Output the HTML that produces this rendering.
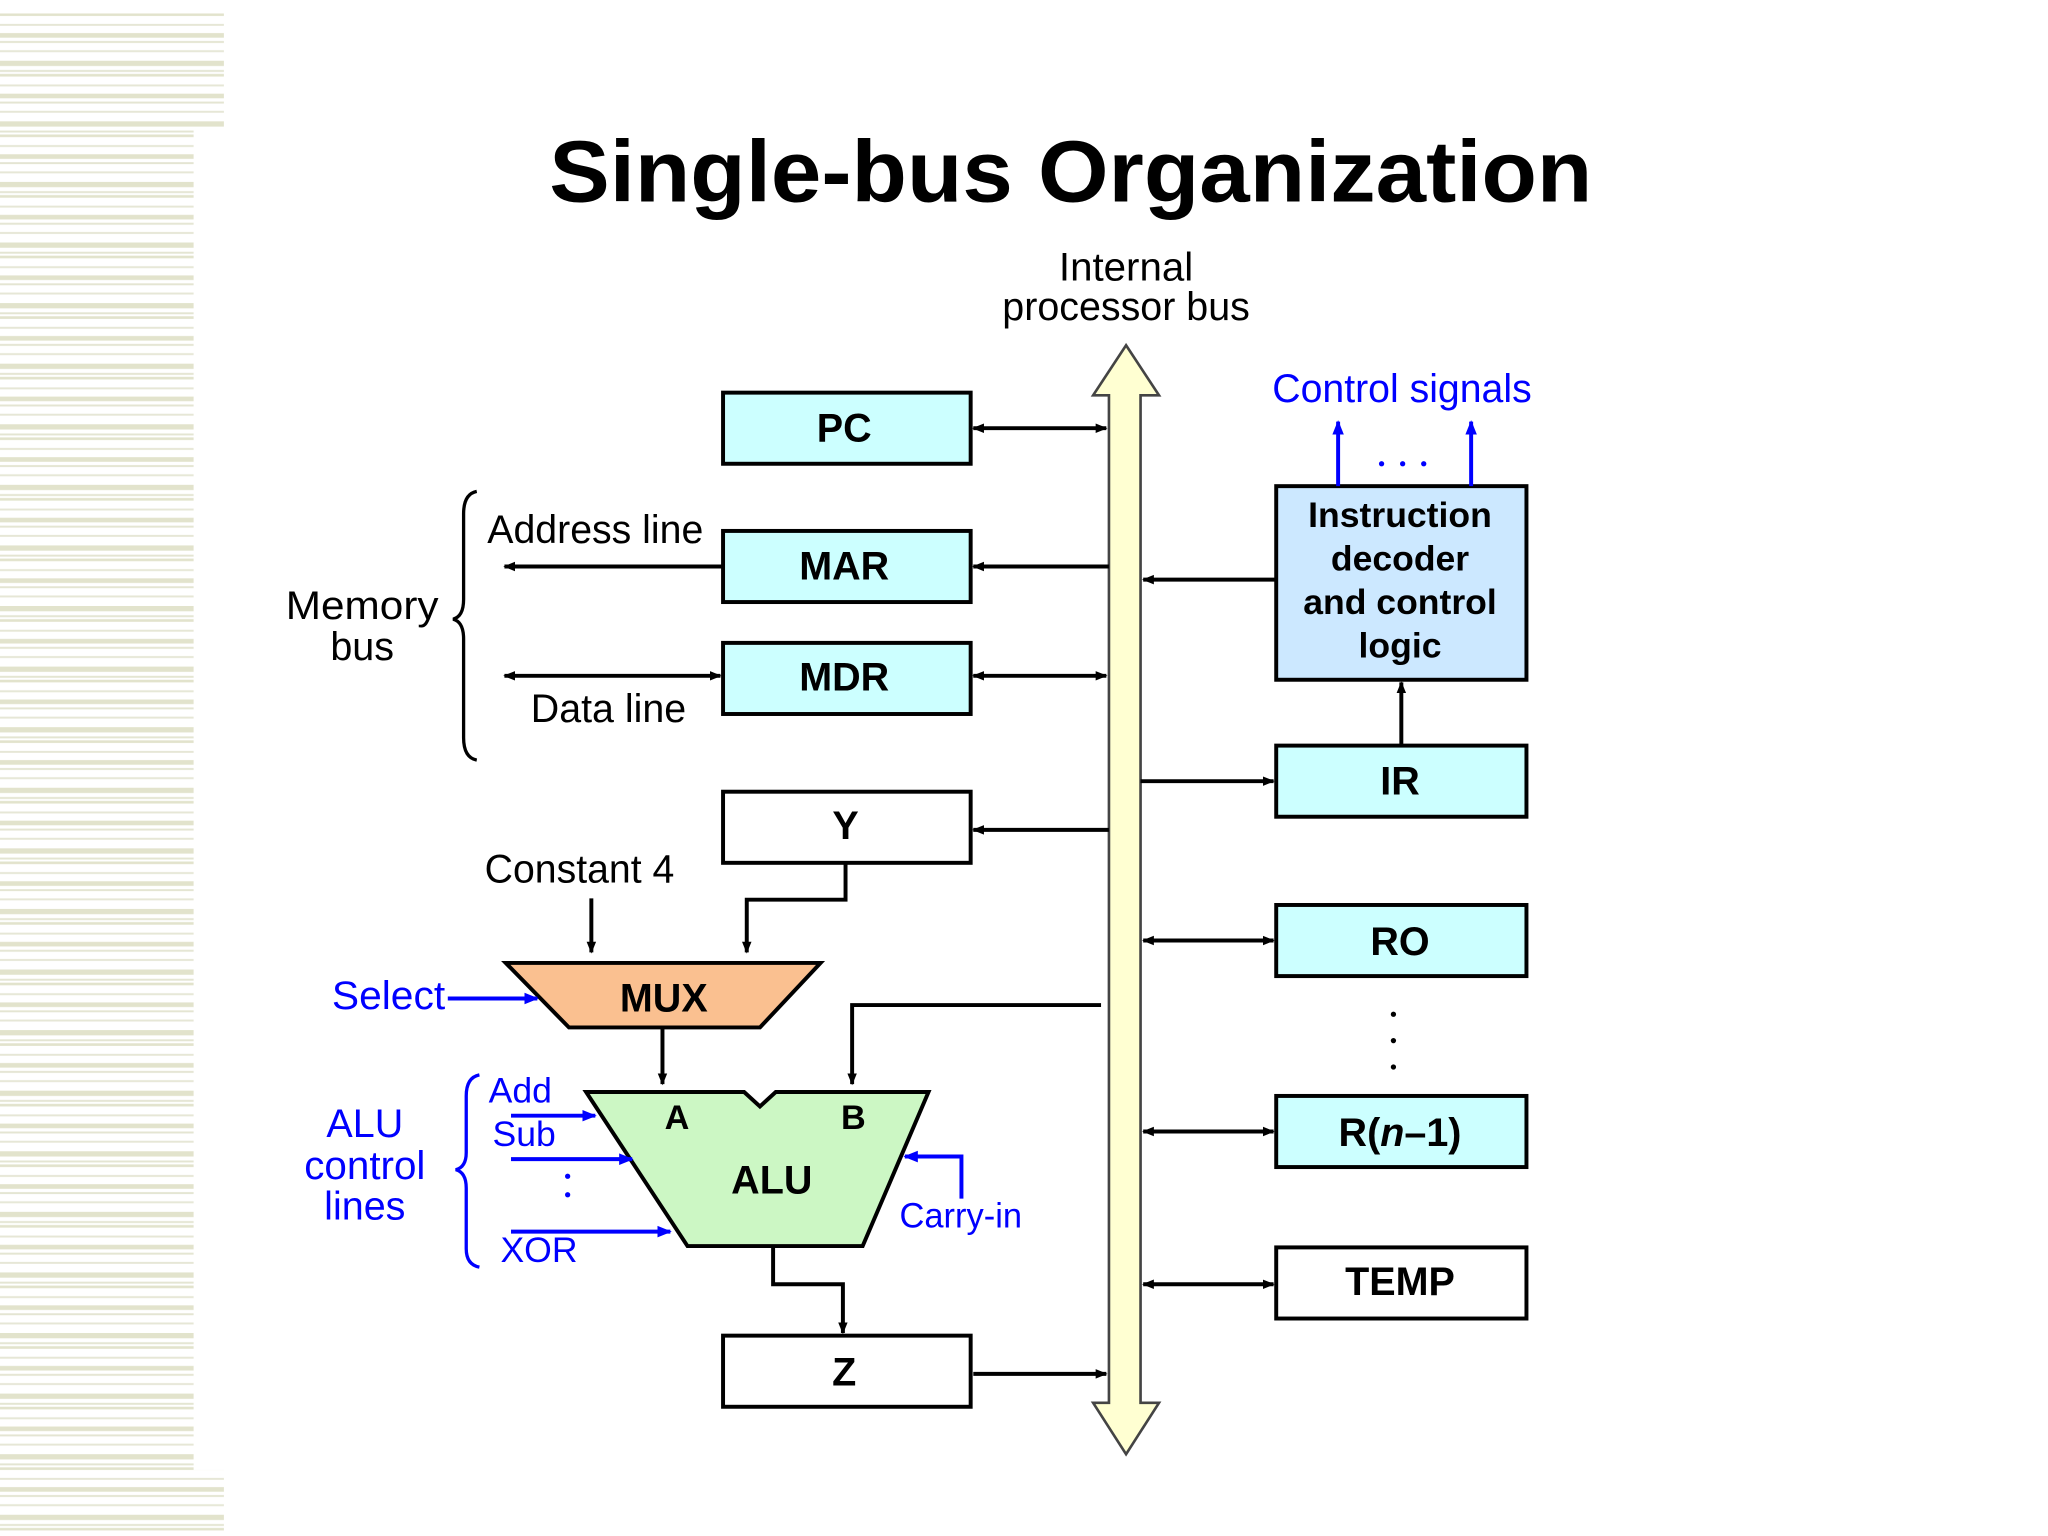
<!DOCTYPE html>
<html><head><meta charset="utf-8"><style>
html,body{margin:0;padding:0;background:#fff;}
svg{display:block;}
text{font-family:"Liberation Sans",sans-serif;}
</style></head><body>
<svg width="2048" height="1536" viewBox="0 0 1555 1166" xmlns="http://www.w3.org/2000/svg">
<defs>
<pattern id="st" x="0" y="0" width="10" height="46" patternUnits="userSpaceOnUse">
<rect x="0" y="0" width="10" height="4" fill="#e2e3cc"/>
<rect x="0" y="7" width="10" height="1.5" fill="#e4e5d2"/>
<rect x="0" y="10" width="10" height="2" fill="#e2e3cc"/>
<rect x="0" y="18" width="10" height="1.5" fill="#e6e7d6"/>
<rect x="0" y="25" width="10" height="3.5" fill="#e2e3cc"/>
<rect x="0" y="31" width="10" height="1.5" fill="#e4e5d2"/>
<rect x="0" y="38" width="10" height="1.5" fill="#e6e7d6"/>
</pattern>
<marker id="ab" viewBox="0 0 10 10" refX="9" refY="5" markerWidth="9" markerHeight="9" markerUnits="userSpaceOnUse" orient="auto-start-reverse"><path d="M0,1 L10,5 L0,9 z" fill="#000"/></marker>
<marker id="au" viewBox="0 0 10 10" refX="9" refY="5" markerWidth="11" markerHeight="11" markerUnits="userSpaceOnUse" orient="auto-start-reverse"><path d="M0,1 L10,5 L0,9 z" fill="#0000ff"/></marker>
</defs>
<rect x="0" y="10" width="170" height="88" fill="url(#st)"/>
<rect x="0" y="98" width="147" height="1018" fill="url(#st)"/>
<rect x="0" y="1116" width="170" height="46" fill="url(#st)"/>

<text x="813" y="153" font-size="66" font-weight="bold" text-anchor="middle" textLength="792" lengthAdjust="spacingAndGlyphs">Single-bus Organization</text>

<g font-size="30" text-anchor="middle">
<text x="855" y="213" textLength="102" lengthAdjust="spacingAndGlyphs">Internal</text>
<text x="855" y="243" textLength="188" lengthAdjust="spacingAndGlyphs">processor bus</text>
</g>

<!-- bus -->
<path d="M855,262 L880,300 L866,300 L866,1065 L880,1065 L855,1104 L830,1065 L842,1065 L842,300 L830,300 Z" fill="#ffffd2" stroke="#444" stroke-width="2"/>

<g stroke="#000" stroke-width="3">
<rect x="549" y="298" width="188" height="54" fill="#ccffff"/>
<rect x="549" y="403" width="188" height="54" fill="#ccffff"/>
<rect x="549" y="488" width="188" height="54" fill="#ccffff"/>
<rect x="549" y="601" width="188" height="54" fill="#fff"/>
<rect x="549" y="1014" width="188" height="54" fill="#fff"/>
<rect x="969" y="369" width="190" height="147" fill="#cce8ff"/>
<rect x="969" y="566" width="190" height="54" fill="#ccffff"/>
<rect x="969" y="687" width="190" height="54" fill="#ccffff"/>
<rect x="969" y="832" width="190" height="54" fill="#ccffff"/>
<rect x="969" y="947" width="190" height="54" fill="#fff"/>
<path d="M384,731 L623,731 L577,780 L432,780 Z" fill="#fac090"/>
<path d="M445,829 L565,829 L577,840 L589,829 L705,829 L655,946 L522,946 Z" fill="#ccf7c4"/>
</g>

<g font-size="30" font-weight="bold" text-anchor="middle">
<text x="641" y="335">PC</text>
<text x="641" y="440">MAR</text>
<text x="641" y="524">MDR</text>
<text x="642" y="637">Y</text>
<text x="641" y="1052">Z</text>
<text x="1063" y="603">IR</text>
<text x="1063" y="725">RO</text>
<text x="1063" y="870">R(<tspan font-style="italic">n</tspan>–1)</text>
<text x="1063" y="983">TEMP</text>
<text x="504" y="768">MUX</text>
<text x="586" y="906">ALU</text>
<text x="514" y="857" font-size="26">A</text>
<text x="648" y="857" font-size="26">B</text>
</g>
<g font-size="27" font-weight="bold" text-anchor="middle">
<text x="1063" y="400">Instruction</text>
<text x="1063" y="433">decoder</text>
<text x="1063" y="466">and control</text>
<text x="1063" y="499">logic</text>
</g>

<g stroke="#000" stroke-width="3" fill="none">
<line x1="739" y1="325" x2="840" y2="325" marker-start="url(#ab)" marker-end="url(#ab)"/>
<line x1="842" y1="430" x2="739" y2="430" marker-end="url(#ab)"/>
<line x1="549" y1="430" x2="383" y2="430" marker-end="url(#ab)"/>
<line x1="739" y1="513" x2="840" y2="513" marker-start="url(#ab)" marker-end="url(#ab)"/>
<line x1="383" y1="513" x2="547" y2="513" marker-start="url(#ab)" marker-end="url(#ab)"/>
<line x1="842" y1="630" x2="739" y2="630" marker-end="url(#ab)"/>
<polyline points="642,655 642,683 567,683 567,723" marker-end="url(#ab)"/>
<line x1="449" y1="682" x2="449" y2="723" marker-end="url(#ab)"/>
<line x1="503" y1="780" x2="503" y2="823" marker-end="url(#ab)"/>
<polyline points="836,763 647,763 647,823" marker-end="url(#ab)"/>
<polyline points="587,946 587,975 640,975 640,1012" marker-end="url(#ab)"/>
<line x1="739" y1="1043" x2="840" y2="1043" marker-end="url(#ab)"/>
<line x1="969" y1="440" x2="868" y2="440" marker-end="url(#ab)"/>
<line x1="866" y1="593" x2="967" y2="593" marker-end="url(#ab)"/>
<line x1="1064" y1="566" x2="1064" y2="518" marker-end="url(#ab)"/>
<line x1="868" y1="714" x2="967" y2="714" marker-start="url(#ab)" marker-end="url(#ab)"/>
<line x1="868" y1="859" x2="967" y2="859" marker-start="url(#ab)" marker-end="url(#ab)"/>
<line x1="868" y1="975" x2="967" y2="975" marker-start="url(#ab)" marker-end="url(#ab)"/>
<path d="M362,373 Q352,375 352,390 L352,455 Q352,468 344,470 Q352,472 352,485 L352,560 Q352,575 362,577" stroke-width="2.5"/>
</g>

<g stroke="#0000ff" stroke-width="3" fill="none">
<line x1="340" y1="758" x2="408" y2="758" marker-end="url(#au)"/>
<line x1="388" y1="847" x2="452" y2="847" marker-end="url(#au)"/>
<line x1="388" y1="880" x2="480" y2="880" marker-end="url(#au)"/>
<line x1="388" y1="935" x2="509" y2="935" marker-end="url(#au)"/>
<polyline points="730,910 730,878 687,878" marker-end="url(#au)"/>
<line x1="1016" y1="369" x2="1016" y2="320" marker-end="url(#au)"/>
<line x1="1117" y1="369" x2="1117" y2="320" marker-end="url(#au)"/>
<path d="M364,816 Q354,818 354,832 L354,875 Q354,886 346,888 Q354,890 354,902 L354,948 Q354,960 364,962" stroke-width="2.5"/>
</g>

<g fill="#000">
<circle cx="1058" cy="770" r="2"/><circle cx="1058" cy="790" r="2"/><circle cx="1058" cy="810" r="2"/>
</g>
<g fill="#0000ff">
<circle cx="1049" cy="352" r="2"/><circle cx="1065" cy="352" r="2"/><circle cx="1081" cy="352" r="2"/>
<circle cx="431" cy="893" r="2"/><circle cx="431" cy="907" r="2"/>
</g>

<g font-size="30" fill="#000">
<text x="370" y="412" textLength="164" lengthAdjust="spacingAndGlyphs">Address line</text>
<text x="403" y="548" textLength="118" lengthAdjust="spacingAndGlyphs">Data line</text>
<text x="368" y="670" textLength="144" lengthAdjust="spacingAndGlyphs">Constant 4</text>
<text x="275" y="470" text-anchor="middle" textLength="116" lengthAdjust="spacingAndGlyphs">Memory</text>
<text x="275" y="501" text-anchor="middle">bus</text>
</g>
<g font-size="30" fill="#0000ff">
<text x="966" y="305" textLength="197" lengthAdjust="spacingAndGlyphs">Control signals</text>
<text x="252" y="766" textLength="86" lengthAdjust="spacingAndGlyphs">Select</text>
<text x="277" y="863" text-anchor="middle">ALU</text>
<text x="277" y="895" text-anchor="middle" textLength="92" lengthAdjust="spacingAndGlyphs">control</text>
<text x="277" y="926" text-anchor="middle">lines</text>
<text x="371" y="837" font-size="27">Add</text>
<text x="374" y="870" font-size="27">Sub</text>
<text x="380" y="958" font-size="27">XOR</text>
<text x="683" y="932" font-size="27" textLength="93" lengthAdjust="spacingAndGlyphs">Carry-in</text>
</g>
</svg>
</body></html>
